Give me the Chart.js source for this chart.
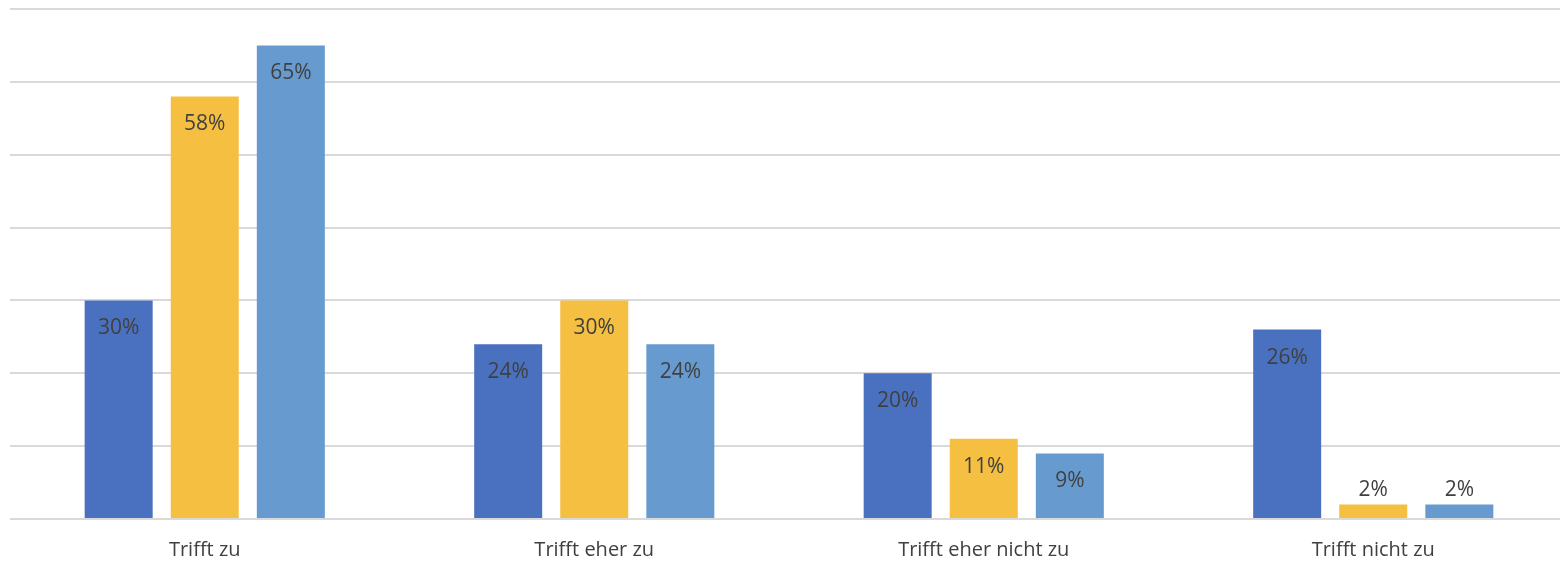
<!DOCTYPE html>
<html>
<head>
<meta charset="utf-8">
<script src="https://cdn.jsdelivr.net/npm/chart.js@4/dist/chart.umd.min.js"></script>
<style>
  html, body { margin: 0; padding: 0; background: #fff; overflow: hidden; }
  #wrap { width: 1568px; height: 562px; }
</style>
</head>
<body>
<div id="wrap"><canvas id="chart"></canvas></div>
<script>
const categories = ['Trifft zu', 'Trifft eher zu', 'Trifft eher nicht zu', 'Trifft nicht zu'];
const seriesA = [30, 24, 20, 26];
const seriesB = [58, 30, 11, 2];
const seriesC = [65, 24, 9, 2];
const yTicks = [0, 10, 20, 30, 40, 50, 60, 70];

const textColor = '#404040';
const gridColor = '#d9d9d9';

// Prozentwerte oben im Balken, bei sehr flachen Balken darüber
const barLabels = {
    id: 'barLabels',
    afterDatasetsDraw(chart) {
        const ctx = chart.ctx;
        ctx.save();
        ctx.font = '21px "Open Sans", sans-serif';
        ctx.fillStyle = textColor;
        ctx.textAlign = 'center';
        ctx.textBaseline = 'middle';
        chart.data.datasets.forEach((ds, i) => {
            chart.getDatasetMeta(i).data.forEach((bar, j) => {
                const h = bar.base - bar.y;
                const y = h > 40 ? bar.y + 28 : bar.y - 14;
                ctx.fillText(ds.data[j] + '%', bar.x, y);
            });
        });
        ctx.restore();
    }
};

new Chart(document.getElementById('chart'), {
    type: 'bar',
    data: {
        labels: categories,
        datasets: [
            { data: seriesA, backgroundColor: '#4A71BF' },
            { data: seriesB, backgroundColor: '#F5BF41' },
            { data: seriesC, backgroundColor: '#679BD0' }
        ]
    },
    options: {
        responsive: true,
        maintainAspectRatio: false,
        animation: false,
        layout: { padding: { left: 10, right: 0, top: 9, bottom: 0 } },
        datasets: {
            bar: { categoryPercentage: 0.663, barPercentage: 0.79 }
        },
        plugins: {
            legend: { display: false },
            tooltip: { enabled: false }
        },
        scales: {
            x: {
                grid: { display: false, drawTicks: false },
                border: { display: false },
                afterFit: axis => { axis.height = 43; },
                ticks: {
                    color: textColor,
                    padding: 19,
                    font: { family: '"Open Sans", sans-serif', size: 20 }
                }
            },
            y: {
                min: yTicks[0],
                max: yTicks[yTicks.length - 1],
                afterBuildTicks: axis => { axis.ticks = yTicks.map(v => ({ value: v })); },
                grid: { color: gridColor, lineWidth: 2, drawTicks: false },
                border: { display: false },
                ticks: { display: false }
            }
        }
    },
    plugins: [barLabels]
});
</script>
</body>
</html>
